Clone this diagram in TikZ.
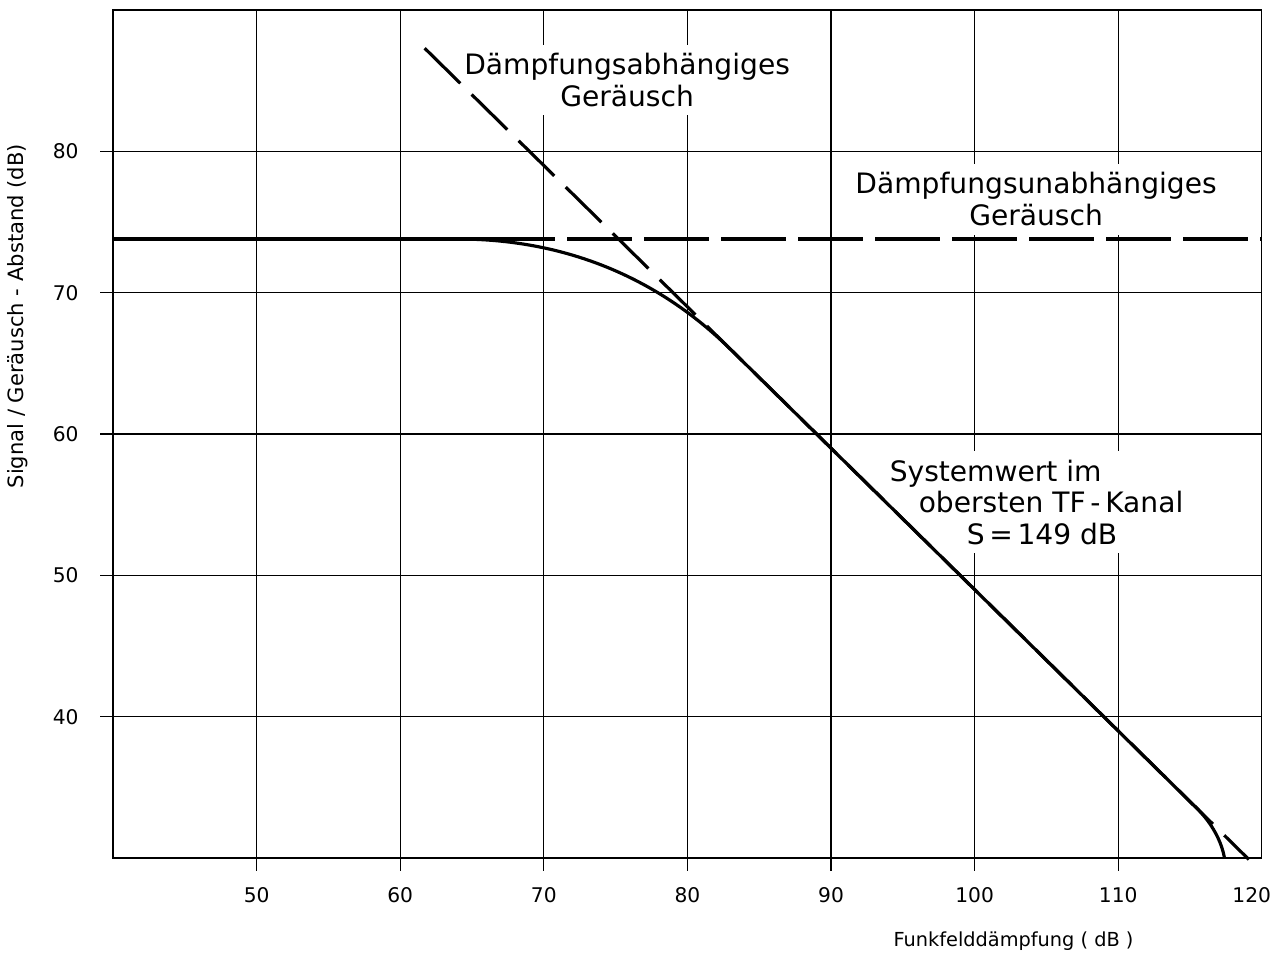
\documentclass[tikz,border=0pt]{standalone}
\usepackage{fontspec}
\setmainfont{DejaVu Sans}

\begin{document}
\begin{tikzpicture}[x=0.2872cm,y=0.2827cm,
        grid/.style={line width=0.7pt},%grid and frame
        curve/.style={line width=1.8pt},
        lbl/.style={fill=white,inner xsep=3pt,inner ysep=5pt,font=\fontsize{16}{18}\selectfont},%white box breaks the grid
        tick/.style={font=\fontsize{11.5}{13}\selectfont}
                ]
\useasboundingbox (32.13,22.85) rectangle (120.92,90.71);
\draw[grid] (40,30) rectangle (120,90);
\foreach \a in {50,60,...,110} \draw[grid] (\a,29.1) -- (\a,90);
\foreach \l in {40,50,...,80} \draw[grid] (39.1,\l) -- (120,\l);
\foreach \a in {50,60,...,110} \node[tick] (xt\a) at (\a,27.4) {\a};
\node[tick] (xt120) at (119.3,27.4) {120};
\foreach \l in {40,50,...,80} \node[tick] (yt\l) at (36.7,\l) {\l};
\node[font=\fontsize{12}{14}\selectfont,rotate=90] (ytitle) at (33.38,68.34) {Signal / Geräusch - Abstand (dB)};
\node[font=\fontsize{11}{13}\selectfont] (xtitle) at (102.71,24.13) {Funkfelddämpfung ( dB )};
\node[lbl,align=center] (abh) at (75.8,85.05) {Dämpfungsabhängiges\\Geräusch};
\node[lbl,align=center] (unabh) at (104.28,76.62) {Dämpfungsunabhängiges\\Geräusch};
\node[lbl,align=left,anchor=west] (sys) at (93.7,55.18)
        {Systemwert im\\\hspace*{0.58cm}obersten TF\,-\,Kanal\\\hspace*{1.54cm}S\,=\,149 dB};
% noise lines and system curve
\draw[curve] (40,73.8) -- (70.8,73.8);
\draw[curve,dash pattern=on 1.3cm off 0.24cm,dash phase=1.3cm] (70.8,73.8) -- (120,73.8);
\draw[curve,dash pattern=on 1.0cm off 0.32cm] (61.7,87.3) -- (119.1,29.9);
\draw[curve] (40,73.8) -- (64,73.8) .. controls (71.3,73.8) and (77.8,71.2) .. (83,66)
        -- (115.5,33.5) .. controls (116.5,32.5) and (117.2,31.2) .. (117.4,30);
\end{tikzpicture}
\end{document}
